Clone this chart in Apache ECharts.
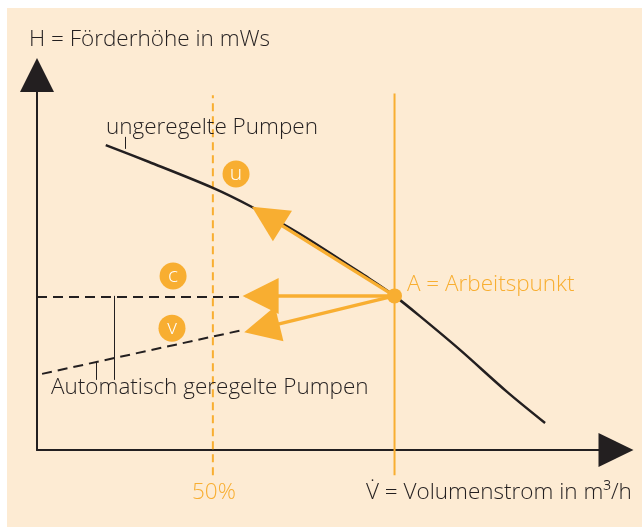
<!DOCTYPE html>
<html>
<head>
<meta charset="utf-8">
<script src="https://cdn.jsdelivr.net/npm/echarts@6/dist/echarts.min.js"></script>
<style>
  html, body { margin: 0; padding: 0; background: #ffffff; }
  #chart { width: 642px; height: 527px; }
</style>
</head>
<body>
<div id="chart"></div>
<script>
// Kennlinie ungeregelte Pumpe (V in % , H)
const curveV = [19, 31, 48.6, 59.4, 72.7, 92, 98.8, 105.8, 116.9, 129.9, 140.4];
const curveH = [81.3, 76.8, 69.9, 64.8, 57.6, 45.6, 41.1, 35.7, 26.7, 15.5, 7.2];

// geregelte Pumpen (c = konstant, v = variabel)
const constV = [0, 57.5];
const constH = [40.8, 40.8];
const varV = [1.4, 56.9];
const varH = [20.3, 32];

// Arbeitspunkt + Pfeile
const pointA = [98.8, 41.1];
const arrowEnds = [[63.6, 62.3], [61.8, 41.1], [62.1, 32.5]];

// Kreise mit Buchstaben
const markerNames = ['u', 'c', 'v'];
const markerV = [55.0, 37.6, 37.3];
const markerH = [73.6, 46.4, 32.5];

// senkrechte Linien
const halfV = 48.6;
const vertRange = [-6.7, 94.6];

// Hinweisstriche zu den Beschriftungen
const leaders = [
  [[24.3, 83.5], [24.3, 80.3]],
  [[21.3, 41.1], [21.3, 18.7]],
  [[16.3, 23.2], [16.3, 18.7]]
];

const ink = '#231f20';
const orange = '#f8ae31';
const font = '"Open Sans", "Noto Sans", sans-serif';
const txt = '300 22.5px ' + font;

const pairs = (xs, ys) => xs.map((x, i) => [x, ys[i]]);

const chart = echarts.init(document.getElementById('chart'));

chart.setOption({
  animation: false,
  grid: { left: 37, right: 26, top: 75, bottom: 77 },
  xAxis: {
    type: 'value', min: 0, max: 160,
    axisLine: { show: true, symbol: ['none', 'triangle'], symbolSize: [34, 35], lineStyle: { color: ink, width: 2 } },
    axisTick: { show: false }, axisLabel: { show: false }, splitLine: { show: false }
  },
  yAxis: {
    type: 'value', min: 0, max: 100,
    axisLine: { show: true, symbol: ['none', 'triangle'], symbolSize: [34, 34], lineStyle: { color: ink, width: 2 } },
    axisTick: { show: false }, axisLabel: { show: false }, splitLine: { show: false }
  },
  graphic: [
    { type: 'rect', z: -10, shape: { x: 7, y: 8, width: 635, height: 519 }, style: { fill: '#fdebd3' } },
    { type: 'text', z: 100, style: { text: 'H = Förderhöhe in mWs', x: 29, y: 40, verticalAlign: 'middle', font: txt, fill: ink } },
    { type: 'text', z: 100, style: { text: 'ungeregelte Pumpen', x: 106, y: 128, verticalAlign: 'middle', font: txt, fill: ink } },
    { type: 'text', z: 100, style: { text: 'Automatisch geregelte Pumpen', x: 51, y: 388, verticalAlign: 'middle', font: txt, fill: ink } },
    { type: 'text', z: 100, style: { text: 'A = Arbeitspunkt', x: 407, y: 285, verticalAlign: 'middle', font: txt, fill: orange } },
    { type: 'text', z: 100, style: { text: '50%', x: 192, y: 493, verticalAlign: 'middle', font: txt, fill: orange } },
    { type: 'text', z: 100, style: { text: 'V\u0307 = Volumenstrom in m³/h', x: 366, y: 493, verticalAlign: 'middle', font: txt, fill: ink } }
  ],
  series: [
    {
      type: 'line', clip: false, symbol: 'none', silent: true,
      data: [[halfV, vertRange[0]], [halfV, vertRange[1]]],
      lineStyle: { color: orange, width: 2, type: [8, 5] }
    },
    {
      type: 'line', clip: false, symbol: 'none', silent: true,
      data: [[pointA[0], vertRange[0]], [pointA[0], vertRange[1] + 0.5]],
      lineStyle: { color: orange, width: 2 }
    },
    {
      type: 'line', smooth: 0.3, symbol: 'none', clip: false,
      data: pairs(curveV, curveH),
      lineStyle: { color: ink, width: 2.5 }
    },
    {
      type: 'line', symbol: 'none', clip: false,
      data: pairs(constV, constH),
      lineStyle: { color: ink, width: 2, type: [10, 6] }
    },
    {
      type: 'line', symbol: 'none', clip: false,
      data: pairs(varV, varH),
      lineStyle: { color: ink, width: 2, type: [10, 6] }
    },
    {
      type: 'lines', coordinateSystem: 'cartesian2d', clip: false,
      data: leaders.map(c => ({ coords: c })),
      lineStyle: { color: ink, width: 1, opacity: 1 }
    },
    {
      type: 'lines', coordinateSystem: 'cartesian2d', clip: false, z: 5,
      symbol: ['none', 'triangle'], symbolSize: [40, 36],
      data: arrowEnds.map(e => ({ coords: [pointA, e] })),
      lineStyle: { color: orange, width: 3.5, opacity: 1 },
      itemStyle: { color: orange }
    },
    {
      type: 'scatter', z: 6, symbolSize: 15,
      data: [pointA],
      itemStyle: { color: orange, opacity: 1 }
    },
    {
      type: 'scatter', z: 6, symbolSize: 27,
      data: markerNames.map((n, i) => ({ name: n, value: [markerV[i], markerH[i]] })),
      itemStyle: { color: orange, opacity: 1 },
      label: { show: true, position: 'inside', formatter: '{b}', color: '#fff', fontSize: 21, fontFamily: font, fontWeight: 300, padding: [0, 0, 3, 0] }
    }
  ]
});
</script>
</body>
</html>
